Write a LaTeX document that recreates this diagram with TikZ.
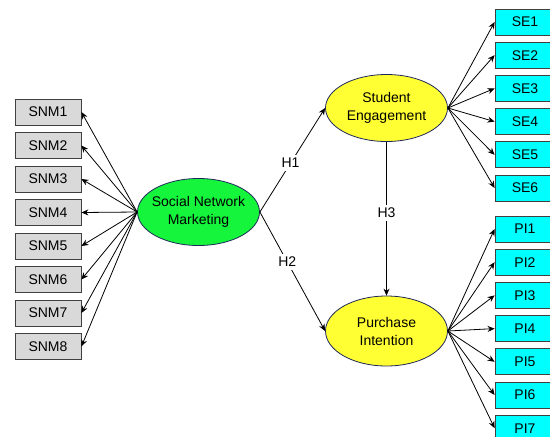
\documentclass[tikz,border=0pt]{standalone}
\usepackage{fontspec}
\setmainfont{Liberation Sans}
\usetikzlibrary{shapes.geometric,arrows.meta,positioning}

\definecolor{boxgray}{RGB}{217,217,217}
\definecolor{boxcyan}{RGB}{0,255,255}
\definecolor{lvgreen}{RGB}{20,245,60}
\definecolor{lvyellow}{RGB}{255,255,51}
\definecolor{rimblue}{RGB}{30,40,90}

\begin{document}
\begin{tikzpicture}
  [
    x=1pt, y=-1pt,
    font=\fontsize{14}{18}\selectfont,
    item/.style={draw=black!75, rectangle, minimum width=66pt, minimum height=26pt, inner sep=2pt, line width=0.8pt, fill=boxgray},
    seitem/.style={item, fill=boxcyan, minimum width=60pt},
    latent/.style={draw=rimblue, ellipse, align=center, inner xsep=-4pt, inner ysep=0pt, minimum width=122pt, minimum height=67pt, line width=0.8pt},
    path/.style={->,line width=0.8pt,>={Stealth[length=7pt,width=6pt]}},
    hyp/.style={fill=white, inner sep=3pt}
  ]
  \useasboundingbox (0,0) rectangle (550,437);

  % latent variables
  \node (snm) [latent, fill=lvgreen] at (198.5,212) {Social Network\\Marketing};
  \node (se) [latent, fill=lvyellow] at (386.5,108) {Student\\Engagement};
  \node (pi) [latent, fill=lvyellow, minimum height=70pt] at (386.5,331) {Purchase\\Intention};

  % indicators of social network marketing
  \node (snm1) [item] at (48,112) {SNM1};
  \node (snm2) [item, below of=snm1, node distance=33.5pt] {SNM2};
  \node (snm3) [item, below of=snm2, node distance=33.5pt] {SNM3};
  \node (snm4) [item, below of=snm3, node distance=33.5pt] {SNM4};
  \node (snm5) [item, below of=snm4, node distance=33.5pt] {SNM5};
  \node (snm6) [item, below of=snm5, node distance=33.5pt] {SNM6};
  \node (snm7) [item, below of=snm6, node distance=33.5pt] {SNM7};
  \node (snm8) [item, below of=snm7, node distance=33.5pt] {SNM8};

  % indicators of student engagement
  \node (se1) [seitem] at (525,22) {SE1};
  \node (se2) [seitem, below of=se1, node distance=33.2pt] {SE2};
  \node (se3) [seitem, below of=se2, node distance=33.2pt] {SE3};
  \node (se4) [seitem, below of=se3, node distance=33.2pt] {SE4};
  \node (se5) [seitem, below of=se4, node distance=33.2pt] {SE5};
  \node (se6) [seitem, below of=se5, node distance=33.2pt] {SE6};

  % indicators of purchase intention
  \node (pi1) [seitem] at (525,229) {PI1};
  \node (pi2) [seitem, below of=pi1, node distance=33.2pt] {PI2};
  \node (pi3) [seitem, below of=pi2, node distance=33.2pt] {PI3};
  \node (pi4) [seitem, below of=pi3, node distance=33.2pt] {PI4};
  \node (pi5) [seitem, below of=pi4, node distance=33.2pt] {PI5};
  \node (pi6) [seitem, below of=pi5, node distance=33.2pt] {PI6};
  \node (pi7) [seitem, below of=pi6, node distance=33.2pt] {PI7};

  \draw [path] (snm.west) -- (snm1.east);
  \draw [path] (snm.west) -- (snm2.east);
  \draw [path] (snm.west) -- (snm3.east);
  \draw [path] (snm.west) -- (snm4.east);
  \draw [path] (snm.west) -- (snm5.east);
  \draw [path] (snm.west) -- (snm6.east);
  \draw [path] (snm.west) -- (snm7.east);
  \draw [path] (snm.west) -- (snm8.east);

  \draw [path] (se.east) -- (se1.west);
  \draw [path] (se.east) -- (se2.west);
  \draw [path] (se.east) -- (se3.west);
  \draw [path] (se.east) -- (se4.west);
  \draw [path] (se.east) -- (se5.west);
  \draw [path] (se.east) -- (se6.west);

  \draw [path] (pi.east) -- (pi1.west);
  \draw [path] (pi.east) -- (pi2.west);
  \draw [path] (pi.east) -- (pi3.west);
  \draw [path] (pi.east) -- (pi4.west);
  \draw [path] (pi.east) -- (pi5.west);
  \draw [path] (pi.east) -- (pi6.west);
  \draw [path] (pi.east) -- (pi7.west);

  % hypotheses
  \draw [path] (snm.east) -- node[hyp, pos=0.47] {H1} (se.west);
  \draw [path] (snm.east) -- node[hyp, pos=0.42] {H2} (pi.west);
  \draw [path] (se.south) -- node[hyp, pos=0.46] {H3} (pi.north);
\end{tikzpicture}
\end{document}
